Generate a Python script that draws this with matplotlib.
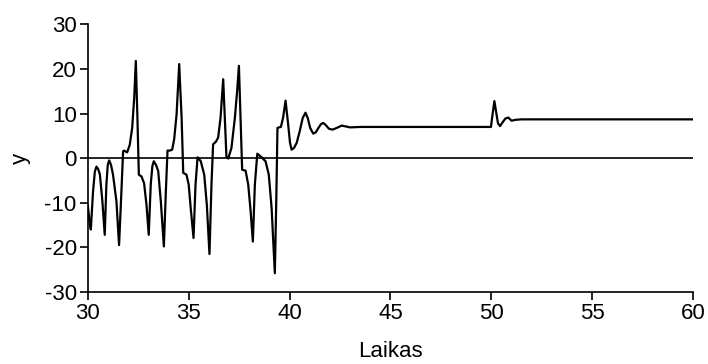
import matplotlib
matplotlib.use("Agg")
import matplotlib.pyplot as plt

# Laiko momentai ir signalo reikšmės (nuskaityta nuo paveikslo)
laikas = [
    30.00, 30.08, 30.15, 30.26, 30.35, 30.43, 30.52, 30.60, 30.72, 30.84,
    30.92, 30.99, 31.06, 31.15, 31.25, 31.42, 31.55,
    31.68, 31.75, 31.80, 31.95, 32.08, 32.20, 32.30, 32.38,
    32.46, 32.53, 32.66, 32.79, 32.91, 33.02,
    33.12, 33.20, 33.27, 33.38, 33.49, 33.62, 33.77,
    33.87, 33.95, 34.07, 34.18, 34.28, 34.40, 34.53,
    34.65, 34.73, 34.89, 35.00, 35.10, 35.24,
    35.34, 35.44, 35.60, 35.77, 35.90, 36.03,
    36.13, 36.21, 36.35, 36.46, 36.58, 36.71,
    36.79, 36.87, 36.96, 37.12, 37.29, 37.40, 37.49,
    37.57, 37.65, 37.82, 37.95, 38.07, 38.18,
    38.28, 38.40, 38.61, 38.81, 38.97, 39.11, 39.27,
    39.34, 39.40, 39.57, 39.68, 39.80, 39.93, 40.02, 40.10,
    40.22, 40.35, 40.50, 40.65, 40.79, 40.90, 41.02, 41.17, 41.30, 41.42,
    41.55, 41.67, 41.80, 41.95, 42.13, 42.35, 42.58, 42.80, 43.00, 43.50,
    49.98, 50.05, 50.15, 50.25, 50.33, 50.43, 50.55, 50.70, 50.84,
    51.00, 51.20, 51.50, 60.00,
]
y = [
    -10.5, -14.0, -16.0, -7.5, -3.0, -1.9, -2.5, -3.7, -9.5, -17.2,
    -6.0, -1.5, -0.5, -1.5, -3.7, -9.7, -19.5,
    -6.0, 1.5, 1.7, 1.3, 3.0, 6.8, 13.5, 21.8,
    9.0, -3.7, -4.1, -5.6, -10.5, -17.2,
    -5.9, -1.8, -0.7, -1.5, -2.9, -9.7, -19.8,
    -7.4, 1.7, 1.7, 1.9, 4.2, 9.8, 21.1,
    9.0, -3.3, -3.7, -5.9, -11.2, -17.9,
    -5.9, 0.2, -0.7, -3.7, -10.5, -21.5,
    -5.9, 3.1, 3.7, 4.6, 9.1, 17.7,
    9.1, 0.4, -0.1, 2.3, 9.1, 15.0, 20.7,
    9.0, -2.6, -2.8, -5.9, -11.9, -18.7,
    -5.9, 1.0, 0.2, -0.7, -3.7, -11.2, -25.8,
    -9.7, 6.8, 7.0, 9.1, 12.9, 7.6, 3.5, 1.9,
    2.3, 3.4, 6.0, 9.0, 10.2, 9.0, 6.8, 5.5, 5.8, 6.7,
    7.6, 7.9, 7.4, 6.6, 6.4, 6.8, 7.3, 7.1, 6.9, 7.0,
    7.0, 9.5, 12.8, 10.0, 7.8, 7.2, 8.0, 8.9, 9.1,
    8.4, 8.6, 8.7, 8.7,
]

x_ticks = [30, 35, 40, 45, 50, 55, 60]
y_ticks = [-30, -20, -10, 0, 10, 20, 30]

plt.rcParams['font.family'] = ['Liberation Sans', 'DejaVu Sans']
plt.rcParams['axes.unicode_minus'] = False

fig = plt.figure(figsize=(7.08, 3.64), dpi=100)
ax = fig.add_axes([0.124, 0.198, 0.855, 0.735])

ax.axhline(0, color='black', lw=1.2)
ax.plot(laikas, y, color='black', lw=1.6)

ax.set_xlim(30, 60)
ax.set_ylim(-30, 30)
ax.set_xticks(x_ticks)
ax.set_yticks(y_ticks)
ax.tick_params(direction='out', length=6, width=1.2, labelsize=16, pad=2)

for side in ['top', 'right']:
    ax.spines[side].set_visible(False)
for side in ['left', 'bottom']:
    ax.spines[side].set_linewidth(1.2)

ax.set_xlabel('Laikas', fontsize=16, labelpad=12)
ax.set_ylabel('y', fontsize=16, labelpad=10)

fig.savefig('out.png', dpi=100)
